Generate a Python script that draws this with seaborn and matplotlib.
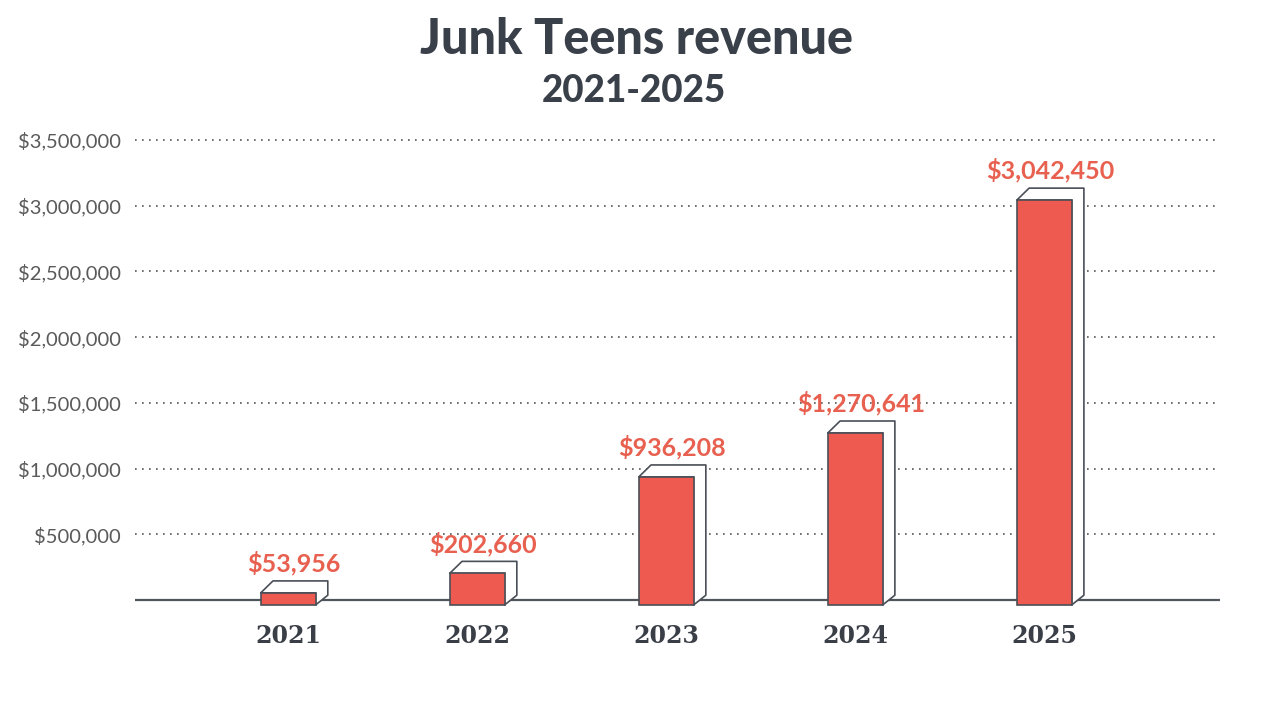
import matplotlib
matplotlib.use("Agg")
import matplotlib.pyplot as plt
import seaborn as sns
import pandas as pd
from matplotlib.patches import Polygon
from matplotlib.ticker import FuncFormatter

years = ["2021", "2022", "2023", "2024", "2025"]
revenue = [53956, 202660, 936208, 1270641, 3042450]
value_labels = ["$53,956", "$202,660", "$936,208", "$1,270,641", "$3,042,450"]
yticks = [500000, 1000000, 1500000, 2000000, 2500000, 3000000, 3500000]

df = pd.DataFrame({"year": years, "revenue": revenue})

sns.set_theme(style="white")
plt.rcParams['font.family'] = ['Lato', 'DejaVu Sans']

RED = "#EE5A50"
LABEL_RED = "#E8604F"
DARK = "#3A4049"
EDGE = "#4A4F57"

px_per_unit = 460 / 3.5e6
ax_bottom_px, ax_top_px = 613, 130
ybot = -(ax_bottom_px - 600) / px_per_unit
ytop = 3.5e6 + (140 - ax_top_px) / px_per_unit
fig = plt.figure(figsize=(12.8, 7.08), dpi=100)
ax = fig.add_axes([135/1280, (708-ax_bottom_px)/708, (1220-135)/1280,
                   (ax_bottom_px-ax_top_px)/708])

sns.barplot(data=df, x="year", y="revenue", color=RED, width=0.29,
            saturation=1, ax=ax, zorder=3, edgecolor=EDGE, linewidth=1.2)

ax.set_xlim(-0.81, 4.93)
ax.set_ylim(ybot, ytop)
ax.axhline(0, color="#50555C", linewidth=1.6, zorder=2)

sink = 5 / px_per_unit
dx = 0.065
dy = 12 / px_per_unit
for p, lab in zip(ax.patches, value_labels):
    x0 = p.get_x(); w = p.get_width(); h = p.get_height()
    x1 = x0 + w
    p.set_y(-sink)
    p.set_height(h + sink)
    poly = Polygon([(x0, h), (x0 + dx, h + dy), (x1 + dx, h + dy),
                    (x1 + dx, dy * 0.4), (x1, -sink), (x1, h)],
                   closed=True, facecolor="white", edgecolor=EDGE,
                   linewidth=1.2, zorder=2.5, joinstyle="round")
    ax.add_patch(poly)
    ax.text(x0 + w/2 + dx/2, h + dy + 40000, lab, ha="center", va="bottom",
            color=LABEL_RED, fontsize=18, fontweight="bold", zorder=5)

ax.set_yticks(yticks)
ax.yaxis.set_major_formatter(FuncFormatter(lambda v, pos: f"${v:,.0f}"))
ax.grid(axis="y", linestyle=(0, (1, 3.2)), color="#555555", linewidth=1.2, zorder=0)
ax.grid(axis="x", visible=False)
for s in ["top", "right", "left", "bottom"]:
    ax.spines[s].set_visible(False)
ax.tick_params(axis="y", length=0, pad=10, labelsize=14.5, labelcolor="#5A5A5A")
ax.tick_params(axis="x", length=0, pad=8)
for t in ax.get_xticklabels():
    t.set_fontfamily(["DejaVu Serif"])
    t.set_fontweight("bold")
    t.set_fontsize(17)
    t.set_color("#3A3F47")
ax.set_xlabel("")
ax.set_ylabel("")

fig.text(0.497, 1 - 40/708, "Junk Teens revenue", ha="center", va="center",
         fontsize=35, fontweight="black", color=DARK)
fig.text(0.495, 1 - 91/708, "2021-2025", ha="center", va="center",
         fontsize=26.5, fontweight="black", color=DARK)

fig.savefig("out.png", dpi=100, facecolor="white")
